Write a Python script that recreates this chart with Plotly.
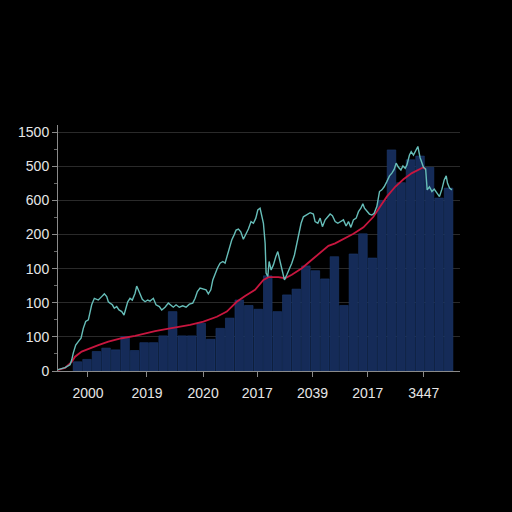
import plotly.graph_objects as go

# bar index along x, values in gridline units (one grid step = 100)
bar_idx = list(range(40))
bar_vals = [27, 34, 57, 67, 62, 101, 60, 83, 83, 103,
            174, 103, 103, 140, 93, 125, 155, 208, 192, 181,
            279, 174, 223, 240, 308, 294, 270, 335, 192, 343,
            402, 331, 500, 648, 552, 619, 630, 597, 507, 536]

cyan_x = [-2.05, -1.31, -0.79, -0.61, -0.44, -0.19, 0.08, 0.37, 0.61, 0.86,
          1.14, 1.31, 1.49, 1.77, 2.02, 2.19, 2.54, 2.82, 3.07, 3.24,
          3.42, 3.66, 3.87, 4.12, 4.36, 4.65, 4.89, 5.07, 5.28, 5.52,
          5.76, 6.05, 6.22, 6.39, 6.57, 6.81, 7.10, 7.38, 7.62, 7.97,
          8.25, 8.60, 8.85, 9.20, 9.55, 9.80, 10.07, 10.36, 10.70, 11.06,
          11.41, 11.76, 12.11, 12.36, 12.60, 12.88, 13.23, 13.51, 13.75, 14.01,
          14.22, 14.46, 14.70, 14.98, 15.27, 15.51, 15.75, 15.96, 16.21, 16.46,
          16.67, 16.91, 17.16, 17.43, 17.79, 17.96, 18.24, 18.49, 18.74, 18.95,
          19.19, 19.37, 19.54, 19.72, 19.82, 20.00, 20.14, 20.35, 20.59, 20.84,
          21.05, 21.29, 21.54, 21.75, 22.00, 22.24, 22.52, 22.80, 23.05, 23.22,
          23.50, 23.74, 24.10, 24.45, 24.79, 24.97, 25.26, 25.50, 25.74, 26.03,
          26.31, 26.55, 26.79, 27.08, 27.36, 27.60, 27.95, 28.23, 28.48, 28.73,
          29.00, 29.29, 29.53, 29.78, 29.99, 30.16, 30.41, 30.68, 30.94, 31.18,
          31.46, 31.74, 31.99, 32.23, 32.51, 32.79, 33.04, 33.28, 33.49, 33.73,
          33.99, 34.20, 34.44, 34.62, 34.89, 35.07, 35.31, 35.59, 35.77, 36.01,
          36.36, 36.59, 36.75, 36.99, 37.25, 37.49, 37.77, 38.04, 38.30, 38.54,
          38.75, 38.89, 39.10, 39.35]
cyan_y = [4, 10, 18, 32, 53, 76, 86, 96, 125, 145,
          150, 169, 194, 213, 210, 208, 218, 226, 218, 203,
          199, 194, 184, 189, 179, 174, 164, 184, 203, 213,
          208, 228, 249, 238, 223, 210, 203, 208, 205, 213,
          194, 189, 179, 187, 199, 194, 187, 194, 187, 191,
          187, 196, 199, 213, 233, 243, 240, 238, 226, 238,
          267, 287, 301, 316, 321, 316, 340, 365, 384, 399,
          413, 416, 408, 386, 406, 416, 438, 433, 448, 472,
          477, 452, 433, 374, 287, 277, 321, 296, 311, 335,
          350, 321, 296, 267, 282, 296, 316, 340, 374, 404,
          433, 452, 457, 464, 460, 438, 433, 448, 423, 443,
          452, 460, 455, 438, 433, 438, 443, 425, 438, 421,
          443, 448, 467, 477, 490, 477, 467, 460, 457, 462,
          482, 526, 531, 540, 555, 572, 580, 591, 609, 597,
          589, 601, 594, 604, 633, 643, 633, 648, 658, 625,
          597, 592, 531, 540, 526, 533, 521, 511, 533, 560,
          572, 550, 536, 531]

red_x = [-2.05, -1.31, -0.61, -0.26, 0.44, 1.14, 2.19, 3.24, 4.65, 6.05,
         7.10, 8.15, 9.73, 11.83, 13.23, 14.64, 15.69, 16.74, 17.61, 18.66,
         19.54, 20.06, 21.11, 21.82, 22.52, 23.58, 24.63, 25.68, 26.37, 27.08,
         28.13, 29.00, 30.05, 31.10, 31.81, 32.51, 33.39, 34.26, 35.14, 35.84,
         36.36, 36.57]
red_y = [3, 9, 27, 42, 57, 65, 76, 86, 96, 103,
         111, 117, 125, 135, 145, 159, 174, 203, 220, 238,
         267, 275, 275, 272, 282, 301, 326, 350, 367, 374,
         389, 402, 421, 452, 482, 511, 540, 562, 580, 591,
         597, 591]

y_ticks = [0, 100, 200, 300, 400, 500, 600, 700]
y_labels = ["0", "100", "100", "100", "200", "600", "500", "1500"]
x_ticks = [1.1, 7.3, 13.2, 18.9, 24.7, 30.5, 36.4]
x_labels = ["2000", "2019", "2020", "2017", "2039", "2017", "3447"]

fig = go.Figure()
fig.add_trace(go.Bar(
    x=bar_idx, y=bar_vals, marker=dict(color="#152b58", line=dict(color="#1d3a70", width=0.6)),
))
fig.add_trace(go.Scatter(x=red_x, y=red_y, mode="lines", line=dict(color="#c8163f", width=1.8)))
fig.add_trace(go.Scatter(x=cyan_x, y=cyan_y, mode="lines", line=dict(color="#66bdb8", width=1.4)))

axis_font = dict(family="Liberation Sans, Arial", size=14, color="#e6e6e6")
fig.update_layout(
    width=512, height=512, showlegend=False, bargap=0.1,
    paper_bgcolor="black", plot_bgcolor="black",
    margin=dict(l=58, r=52, t=125, b=141),
    xaxis=dict(
        range=[-2.05, 40.2], tickmode="array", tickvals=x_ticks, ticktext=x_labels,
        showgrid=False, zeroline=False, showline=True, linecolor="#8a8a8a", linewidth=1,
        ticks="outside", ticklen=5, tickcolor="#8a8a8a", tickfont=axis_font,
        ticklabelstandoff=4,
    ),
    yaxis=dict(
        range=[0, 721], tickmode="array", tickvals=y_ticks, ticktext=y_labels,
        showgrid=True, gridcolor="rgba(150,150,150,0.28)", gridwidth=1, zeroline=False,
        showline=True, linecolor="#8a8a8a", linewidth=1, layer="above traces",
        ticks="outside", ticklen=5, tickcolor="#8a8a8a", tickfont=axis_font,
        minor=dict(tickvals=[50, 150, 250, 350, 450, 550, 650], ticks="outside",
                   ticklen=3, tickcolor="#6a6a6a", showgrid=False),
    ),
)

# the page body has a default margin; drop it so the figure fills the window
fig.write_html(
    "out.html",
    config={"displayModeBar": False},
    post_script="document.body.style.margin='0';document.body.style.background='black';",
)
